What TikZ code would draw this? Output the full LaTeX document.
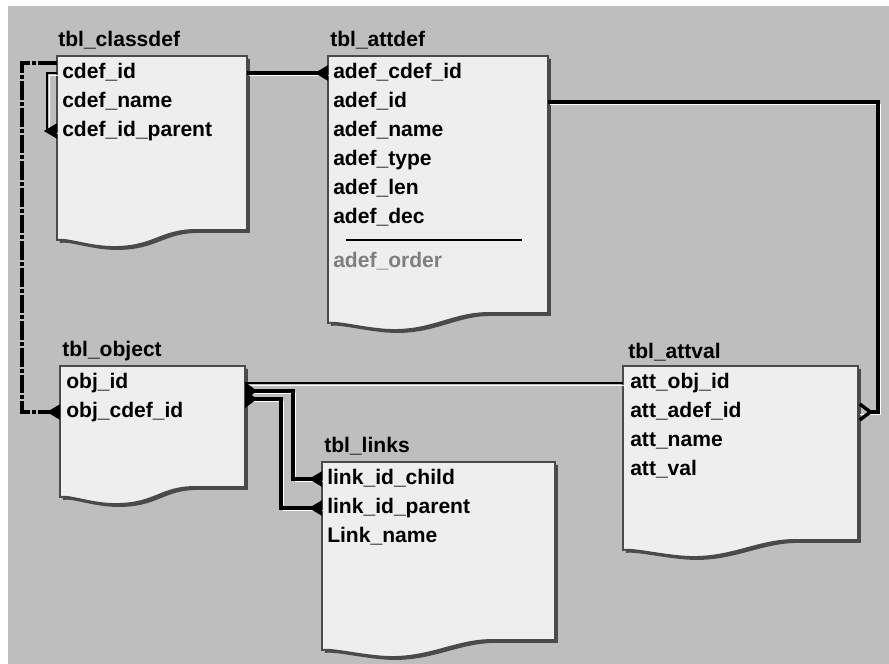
\documentclass[tikz,border=0pt]{standalone}
\usepackage{fontspec}
\setmainfont{Liberation Sans}
\usetikzlibrary{arrows.meta,positioning,calc}

\definecolor{bggray}{HTML}{BEBEBE}
\definecolor{boxfill}{HTML}{EEEEEE}
\definecolor{boxline}{HTML}{4A4A4A}
\definecolor{greytext}{HTML}{7F7F7F}

\newcommand\rowfont{\fontsize{15.8}{18}\selectfont\bfseries}

% table outline with the torn bottom edge
\newcommand\docshape[1]{%
  \path ($(#1.south east)!0.27!(#1.south west)$) coordinate (#1-b)
        ($(#1.south west)!0.3!(#1.south east)+(0,17)$) coordinate (#1-c)
        ($(#1.south west)+(0,10)$) coordinate (#1-d);
  \fill[boxline, transform canvas={shift={(2.2pt,-2.2pt)}}]
    (#1.north west) -- (#1.north east) -- (#1.south east) -- (#1-b)
    .. controls +(-35,0) and +(40,0) .. (#1-c)
    .. controls +(-25,0) and +(10,-2) .. (#1-d) -- cycle;
  \draw[boxline, line width=1.4pt, fill=boxfill]
    (#1.north west) -- (#1.north east) -- (#1.south east) -- (#1-b)
    .. controls +(-35,0) and +(40,0) .. (#1-c)
    .. controls +(-25,0) and +(10,-2) .. (#1-d) -- cycle;
}

% connector with a white edge under it
\newcommand\link[2][]{%
  \draw[hl] #2;
  \draw[#1] #2;
}

\begin{document}
\begin{tikzpicture}[x=0.75pt,y=-0.75pt,
    tbl/.style={anchor=north west, inner sep=0pt, outer sep=0pt},
    title/.style={anchor=base west, inner sep=0pt, font=\rowfont},
    row/.style={anchor=west, inner sep=0pt, text height=11pt, text depth=3pt, font=\rowfont},
    hl/.style={white, line width=0.9pt, transform canvas={shift={(1.8pt,-1.8pt)}}},
    rel/.style={line width=2.6pt, -{Triangle[reversed,length=10pt,width=11pt]}},
    fk/.style={black, line width=2.6pt, dash pattern=on 14pt off 1.5pt on 3pt off 1.5pt,
               -{Triangle[reversed,length=10pt,width=11pt]}}]
   \useasboundingbox (0,0) rectangle (889,664);
   \fill[white] (0,0) rectangle (889,664);
   \fill[bggray] (8,6) rectangle (889,664);

   \node[tbl, minimum width=142.5pt, minimum height=130.5pt] (classdef) at (57,56) {};
   \node[tbl, minimum width=165pt, minimum height=192.75pt] (attdef) at (328,56) {};
   \node[tbl, minimum width=138.75pt, minimum height=90.75pt] (object) at (60,366) {};
   \node[tbl, minimum width=174.75pt, minimum height=133.5pt] (links) at (322,462) {};
   \node[tbl, minimum width=176.25pt, minimum height=130.5pt] (attval) at (623,366) {};
   \docshape{classdef}
   \docshape{attdef}
   \docshape{object}
   \docshape{links}
   \docshape{attval}

   \node[title] (classdef-t) at ([shift={(1,-10)}]classdef.north west) {tbl\_classdef};
   \node[title] (attdef-t) at ([shift={(2,-10)}]attdef.north west) {tbl\_attdef};
   \node[title] (object-t) at ([shift={(2,-10)}]object.north west) {tbl\_object};
   \node[title] (links-t) at ([shift={(2,-10)}]links.north west) {tbl\_links};
   \node[title] (attval-t) at ([shift={(5,-8)}]attval.north west) {tbl\_attval};

   \foreach \t [count=\i] in {cdef\_id,cdef\_name,cdef\_id\_parent}
      \node[row] (cd\i) at ([shift={(5,-12+29*\i)}]classdef.north west) {\t};
   \foreach \t [count=\i] in {adef\_cdef\_id,adef\_id,adef\_name,adef\_type,adef\_len,adef\_dec}
      \node[row] (ad\i) at ([shift={(5,-12+29*\i)}]attdef.north west) {\t};
   \node[row, text=greytext] (ad7) at ([shift={(5,206)}]attdef.north west) {adef\_order};
   \draw[line width=2.2pt] ($(ad6.west)+(13,22)$) -- ++(176,0);
   \foreach \t [count=\i] in {obj\_id,obj\_cdef\_id}
      \node[row] (ob\i) at ([shift={(6,-12+29*\i)}]object.north west) {\t};
   \foreach \t [count=\i] in {link\_id\_child,link\_id\_parent,Link\_name}
      \node[row] (li\i) at ([shift={(5,-12+29*\i)}]links.north west) {\t};
   \foreach \t [count=\i] in {att\_obj\_id,att\_adef\_id,att\_name,att\_val}
      \node[row] (av\i) at ([shift={(7,-12+29*\i)}]attval.north west) {\t};

   % relations
   \link[rel]{(classdef.east |- cd1) -- (attdef.west |- cd1)}
   \link[rel, -{Straight Barb[reversed,length=8pt,width=12pt]}]
      {(attdef.east |- ad2) -| ($(attval.east |- av2)+(20,0)$) -- (attval.east |- av2)}
   \link[rel, line width=2.2pt]{(classdef.west |- cd1) -| ($(classdef.west |- cd3)+(-10,0)$)
      -- (classdef.west |- cd3)}
   \draw[fk] ($(classdef.north west)+(0,7)$) -| ($(object.west |- ob2)+(-38,0)$)
      -- (object.west |- ob2);
   \link[line width=1.5pt]{(object.east |- ob1) -- (attval.west |- av1)}
   \link[rel, {Triangle[reversed,length=9pt,width=13pt]}-{Triangle[reversed,length=10pt,width=11pt]}]
      {($(object.east |- ob1)+(0,8)$) -| ($(links.west |- li1)+(-29,0)$) -- (links.west |- li1)}
   \link[rel, {Triangle[reversed,length=9pt,width=13pt]}-{Triangle[reversed,length=10pt,width=11pt]}]
      {($(object.east |- ob1)+(0,16)$) -| ($(links.west |- li2)+(-41,0)$) -- (links.west |- li2)}
\end{tikzpicture}
\end{document}
